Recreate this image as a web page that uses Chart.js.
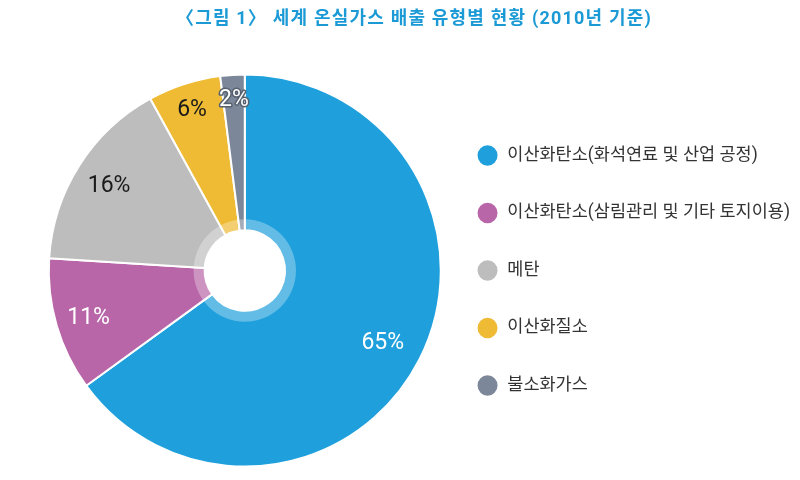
<!DOCTYPE html>
<html>
<head>
<meta charset="utf-8">
<script src="https://cdn.jsdelivr.net/npm/chart.js@4/dist/chart.umd.min.js"></script>
<style>
  html, body { margin: 0; padding: 0; background: #fff; }
  #wrap { width: 800px; height: 480px; }
</style>
</head>
<body>
<div id="wrap"><canvas id="emission-chart" width="800" height="480"></canvas></div>
<script>
const title = '〈그림 1〉 세계 온실가스 배출 유형별 현황 (2010년 기준)';
const categories = [
  '이산화탄소(화석연료 및 산업 공정)',
  '이산화탄소(삼림관리 및 기타 토지이용)',
  '메탄',
  '이산화질소',
  '불소화가스'
];
const shares = [65, 11, 16, 6, 2];

const fill = ['#1fa0dc', '#b866a8', '#bdbdbd', '#efbb34', '#7c889a'];
const labelColor = ['#ffffff', '#ffffff', '#1a1a1a', '#1a1a1a', '#ffffff'];
const labelRadius = [0.79, 0.83, 0.82, 0.87, 0.88];
const FONT = "Roboto, 'Noto Sans CJK KR', sans-serif";

// title drawn at a fixed spot, slightly right of canvas centre like the original
const titlePlugin = {
  id: 'figTitle',
  afterDraw(chart) {
    const ctx = chart.ctx;
    ctx.save();
    ctx.font = "bold 18px Roboto, 'Noto Sans CJK KR', sans-serif";
    ctx.letterSpacing = '1.2px';
    ctx.fillStyle = '#1b9ad6';
    ctx.textAlign = 'center';
    ctx.textBaseline = 'middle';
    ctx.fillText(title, 414, 19);
    ctx.restore();
  }
};

// light ring around the hole
const ringPlugin = {
  id: 'innerRing',
  afterDatasetsDraw(chart) {
    const arc = chart.getDatasetMeta(0).data[0];
    if (!arc) return;
    const {x, y, innerRadius} = arc.getProps(['x', 'y', 'innerRadius'], true);
    const ctx = chart.ctx;
    ctx.save();
    ctx.beginPath();
    ctx.arc(x, y, innerRadius + 11, 0, Math.PI * 2);
    ctx.arc(x, y, innerRadius, 0, Math.PI * 2, true);
    ctx.fillStyle = 'rgba(255,255,255,0.3)';
    ctx.fill();
    ctx.restore();
  }
};

// percentage labels inside slices
const pctPlugin = {
  id: 'pctLabels',
  afterDatasetsDraw(chart) {
    const ctx = chart.ctx;
    const meta = chart.getDatasetMeta(0);
    ctx.save();
    ctx.font = '23px ' + FONT;
    ctx.textAlign = 'center';
    ctx.textBaseline = 'middle';
    meta.data.forEach((arc, i) => {
      const p = arc.getProps(['x', 'y', 'startAngle', 'endAngle', 'outerRadius'], true);
      const mid = (p.startAngle + p.endAngle) / 2;
      const r = p.outerRadius * labelRadius[i];
      const tx = p.x + Math.cos(mid) * r;
      const ty = p.y + Math.sin(mid) * r + 2;
      const txt = shares[i] + '%';
      if (shares[i] < 4) {
        ctx.lineWidth = 3;
        ctx.strokeStyle = '#56616f';
        ctx.lineJoin = 'round';
        ctx.strokeText(txt, tx, ty);
      }
      ctx.fillStyle = labelColor[i];
      ctx.fillText(txt, tx, ty);
    });
    ctx.restore();
  }
};

new Chart(document.getElementById('emission-chart'), {
  type: 'doughnut',
  data: {
    labels: categories,
    datasets: [{
      data: shares,
      backgroundColor: fill,
      borderColor: '#ffffff',
      borderWidth: 2,
      hoverOffset: 0
    }]
  },
  options: {
    responsive: false,
    animation: false,
    radius: 196,
    cutout: '20.5%',
    layout: {
      padding: {top: 73, bottom: 12, left: 53, right: 0}
    },
    plugins: {
      tooltip: {enabled: false},
      legend: {
        position: 'right',
        align: 'center',
        labels: {
          usePointStyle: true,
          pointStyle: 'circle',
          pointStyleWidth: 22,
          boxHeight: 16,
          padding: 40,
          color: '#333333',
          font: {family: FONT, size: 17.5}
        }
      }
    }
  },
  plugins: [titlePlugin, ringPlugin, pctPlugin]
});
</script>
</body>
</html>
